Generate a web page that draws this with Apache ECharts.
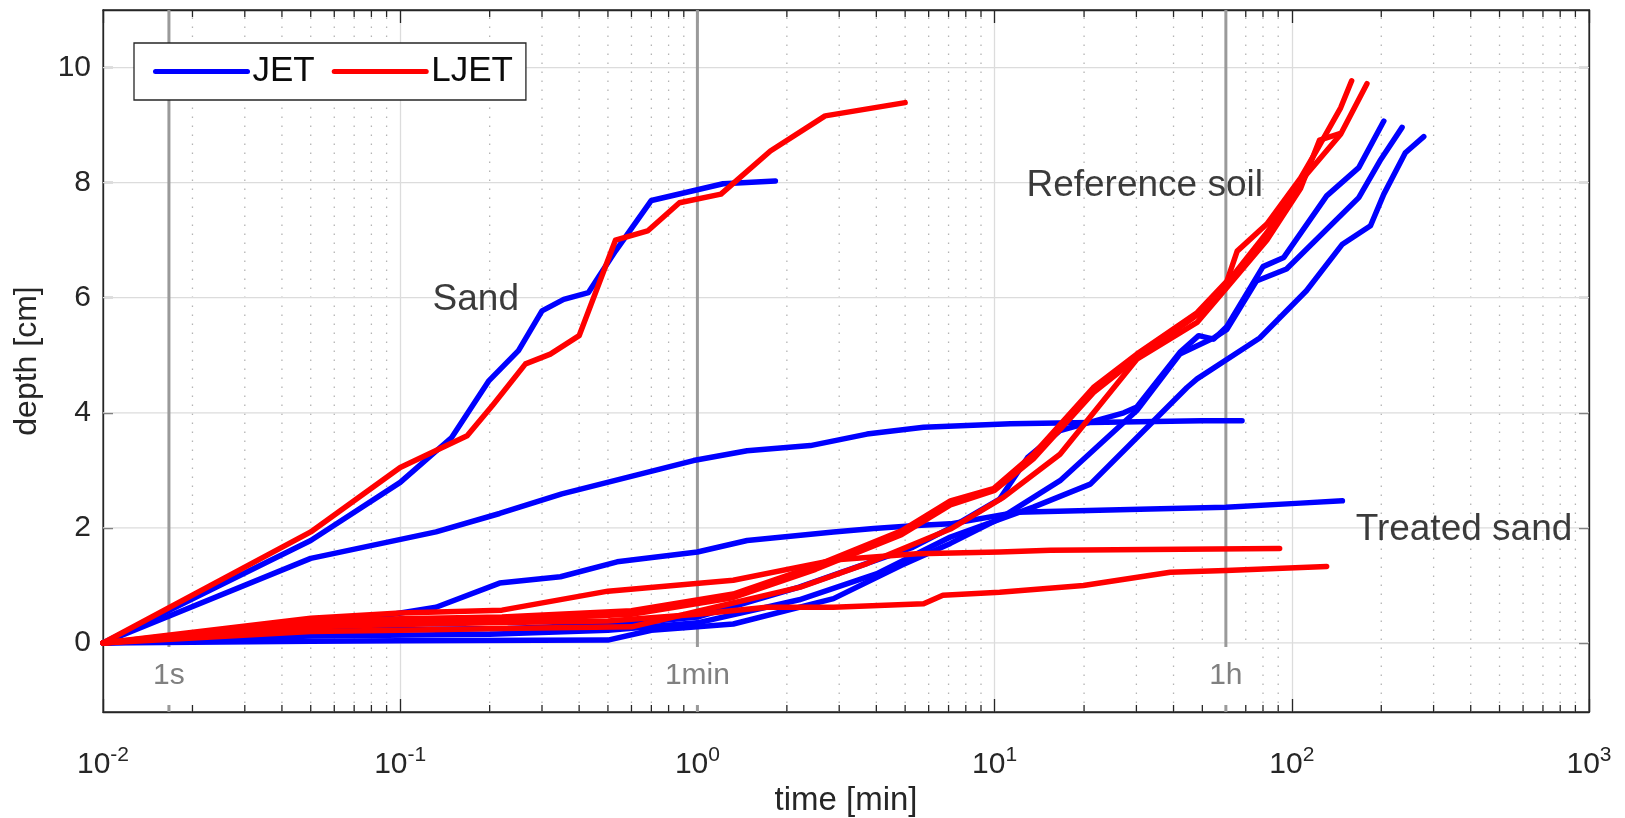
<!DOCTYPE html>
<html>
<head>
<meta charset="utf-8">
<script src="https://cdn.jsdelivr.net/npm/echarts@6/dist/echarts.min.js"></script>
<style>
  html, body { margin: 0; padding: 0; background: #fff; }
  #chart { width: 1625px; height: 818px; }
</style>
</head>
<body>
<div id="chart"></div>
<script>
// each curve: [time (min), depth (cm)]
const sandJet = [[0.01, 0], [0.05, 1.78], [0.1, 2.79], [0.149, 3.57], [0.199, 4.56], [0.25, 5.08], [0.3, 5.77], [0.355, 5.97], [0.43, 6.09], [0.53, 6.81], [0.7, 7.69], [1.22, 7.98], [1.83, 8.03]];
const treatedJetA = [[0.01, 0], [0.05, 1.47], [0.132, 1.93], [0.216, 2.25], [0.35, 2.59], [0.97, 3.17], [1.47, 3.34], [2.4, 3.43], [3.72, 3.63], [5.77, 3.75], [11.3, 3.81], [50, 3.86], [68, 3.86]];
const treatedJetB = [[0.01, 0], [0.05, 0.28], [0.09, 0.48], [0.132, 0.62], [0.216, 1.04], [0.346, 1.15], [0.537, 1.41], [1.0, 1.58], [1.47, 1.78], [2.87, 1.93], [3.92, 1.99], [5.47, 2.04], [7.1, 2.07], [11.9, 2.27], [33.4, 2.33], [60, 2.36], [107, 2.43], [148, 2.47]];
const refJet1 = [[0.01, 0], [0.05, 0.03], [0.1, 0.04], [0.5, 0.05], [0.7, 0.22], [1.0, 0.28], [1.32, 0.33], [2.87, 0.77], [4.86, 1.35], [7.1, 1.73], [10.4, 2.16], [16.6, 2.82], [30.1, 4.04], [42, 5.02], [55, 5.31], [60.5, 5.45], [76, 6.29], [96, 6.5], [168, 7.74], [198, 8.38], [235, 8.96]];
const refJet2 = [[0.01, 0], [0.05, 0.22], [0.23, 0.25], [0.57, 0.33], [1.0, 0.45], [2.2, 0.97], [5.3, 1.66], [7.1, 2.0], [10.4, 2.5], [12.9, 3.22], [16.6, 3.69], [27.2, 4.0], [30.1, 4.1], [42, 5.05], [48.6, 5.34], [54.6, 5.28], [60.5, 5.5], [80, 6.54], [94, 6.7], [131, 7.77], [168, 8.26], [204, 9.07]];
const refJet3 = [[0.01, 0], [0.05, 0.12], [0.2, 0.15], [0.5, 0.22], [1.0, 0.35], [2.2, 0.75], [4.0, 1.2], [7.1, 1.84], [13.5, 2.36], [21, 2.76], [33.4, 3.8], [44.4, 4.44], [48, 4.59], [78, 5.3], [112, 6.12], [148, 6.93], [184, 7.25], [204, 7.8], [241, 8.52], [278, 8.8]];

const sandLjet = [[0.01, 0], [0.05, 1.93], [0.1, 3.05], [0.168, 3.6], [0.206, 4.15], [0.264, 4.85], [0.32, 5.02], [0.4, 5.34], [0.53, 7.0], [0.68, 7.16], [0.87, 7.65], [1.2, 7.8], [1.76, 8.55], [2.69, 9.16], [5.0, 9.39]];
const treatedLjetA = [[0.01, 0], [0.05, 0.43], [0.1, 0.52], [0.22, 0.57], [0.5, 0.9], [1.32, 1.09], [2.87, 1.44], [5.47, 1.55], [10.4, 1.58], [15.4, 1.61], [91, 1.64]];
const treatedLjetB = [[0.01, 0], [0.05, 0.28], [0.1, 0.32], [0.2, 0.35], [0.5, 0.38], [1.0, 0.5], [1.71, 0.62], [2.87, 0.62], [5.77, 0.68], [6.7, 0.83], [10.4, 0.88], [19.9, 1.0], [39, 1.23], [60, 1.26], [131, 1.33]];
const refLjet1 = [[0.01, 0], [0.05, 0.38], [0.1, 0.42], [0.22, 0.45], [0.6, 0.56], [1.32, 0.85], [2.52, 1.35], [4.86, 1.95], [7.1, 2.47], [9.9, 2.68], [13.5, 3.28], [21.5, 4.44], [30.1, 5.02], [48, 5.74], [60.5, 6.29], [65.5, 6.81], [82.4, 7.28], [107, 8.08], [121, 8.55], [146, 9.3], [159, 9.77]];
const refLjet2 = [[0.01, 0], [0.05, 0.32], [0.1, 0.36], [0.22, 0.4], [0.6, 0.5], [1.3, 0.78], [2.5, 1.28], [4.86, 1.88], [7.1, 2.4], [10, 2.65], [13.5, 3.2], [21.5, 4.35], [30.1, 4.95], [48, 5.7], [60.5, 6.25], [82.4, 7.13], [112, 8.14], [146, 8.84], [179, 9.72]];
const refLjet3 = [[0.01, 0], [0.05, 0.2], [0.1, 0.22], [0.22, 0.25], [0.6, 0.28], [1.02, 0.56], [2.22, 0.97], [3.72, 1.38], [7.1, 1.98], [10.7, 2.53], [16.6, 3.28], [30.1, 4.93], [48, 5.57], [60.5, 6.18], [82.4, 7.0], [107, 7.9], [124, 8.74], [145, 8.85]];

const jetCurves = [sandJet, treatedJetA, treatedJetB, refJet1, refJet2, refJet3];
const ljetCurves = [sandLjet, treatedLjetA, treatedLjetB, refLjet1, refLjet2, refLjet3];

const yTicks = [0, 2, 4, 6, 8, 10];
const xRange = [0.01, 1000];
const yRange = [-1.2, 11];

// 1 s, 1 min, 1 h marks
const refTimes = [1 / 60, 1, 60];
const refLabels = ['1s', '1min', '1h'];

const noteTexts = ['Sand', 'Reference soil', 'Treated sand'];
const noteTimes = [0.1285, 12.8, 164];
const noteDepths = [5.97, 7.95, 1.96];

const minorTicks = [];
for (let e = -2; e < 3; e++) {
  for (let k = 2; k <= 9; k++) minorTicks.push(k * Math.pow(10, e));
}

const FONT = '"Liberation Sans", Arial, Helvetica, sans-serif';
const AXIS_COLOR = '#262626';

const chart = echarts.init(document.getElementById('chart'));

function curveSeries(name, data, color) {
  return {
    type: 'line',
    name: name,
    data: data,
    showSymbol: false,
    symbol: 'circle',
    symbolSize: 4,
    lineStyle: { width: 5.5, color: color, join: 'round', cap: 'round' },
    itemStyle: { color: color },
    z: 5,
    silent: true
  };
}

const series = [
  // dotted minor grid + minor ticks at top and bottom
  {
    type: 'custom',
    silent: true,
    z: 1,
    data: minorTicks.map(v => [v, yRange[0]]),
    encode: { x: 0, y: 1 },
    renderItem: function (params, api) {
      const x = api.value(0);
      const b = api.coord([x, yRange[0]]);
      const t = api.coord([x, yRange[1]]);
      return {
        type: 'group',
        children: [
          { type: 'line', shape: { x1: b[0], y1: b[1], x2: t[0], y2: t[1] },
            style: { stroke: '#b4b4b4', lineWidth: 1.3, lineDash: [1.5, 7.5] } },
          { type: 'line', shape: { x1: b[0], y1: b[1], x2: b[0], y2: b[1] - 7 },
            style: { stroke: AXIS_COLOR, lineWidth: 1.3 } },
          { type: 'line', shape: { x1: t[0], y1: t[1], x2: t[0], y2: t[1] + 7 },
            style: { stroke: AXIS_COLOR, lineWidth: 1.3 } }
        ]
      };
    }
  },
  // horizontal grid lines
  {
    type: 'custom',
    silent: true,
    z: 1,
    data: yTicks.map(v => [xRange[0], v]),
    encode: { x: 0, y: 1 },
    renderItem: function (params, api) {
      const y = api.value(1);
      const a = api.coord([xRange[0], y]);
      const b = api.coord([xRange[1], y]);
      return { type: 'line', shape: { x1: a[0], y1: a[1], x2: b[0], y2: b[1] },
        style: { stroke: '#dcdcdc', lineWidth: 1.3 } };
    }
  },
  // 1s / 1min / 1h lines with labels
  {
    type: 'custom',
    silent: true,
    z: 2,
    data: refTimes.map((v, i) => [v, 0, i]),
    encode: { x: 0, y: 1 },
    renderItem: function (params, api) {
      const x = api.value(0);
      const b = api.coord([x, yRange[0]]);
      const t = api.coord([x, yRange[1]]);
      const z0 = api.coord([x, 0]);
      return {
        type: 'group',
        children: [
          { type: 'line', shape: { x1: b[0], y1: b[1], x2: t[0], y2: t[1] },
            style: { stroke: '#9a9a9a', lineWidth: 3 } },
          { type: 'text',
            style: { text: refLabels[api.value(2)], x: z0[0], y: z0[1] + 33,
              fill: '#808080', font: '30px ' + FONT, align: 'center', verticalAlign: 'middle',
              backgroundColor: '#fff', padding: [14, 12, 14, 12] } }
        ]
      };
    }
  }
];

jetCurves.forEach(c => series.push(curveSeries('JET', c, '#0000ff')));
ljetCurves.forEach(c => series.push(curveSeries('LJET', c, '#ff0000')));

series.push({
  type: 'scatter',
  name: 'notes',
  silent: true,
  z: 6,
  symbolSize: 0,
  data: noteTexts.map((s, i) => ({ value: [noteTimes[i], noteDepths[i]], label: { formatter: s } })),
  label: { show: true, position: 'right', distance: 0, fontSize: 37, color: '#0a0a0a', fontFamily: FONT }
});

const option = {
  animation: false,
  backgroundColor: '#fff',
  textStyle: { fontFamily: FONT },
  grid: {
    left: 103, right: 36, top: 10, bottom: 106,
    show: true, borderColor: AXIS_COLOR, borderWidth: 1.3,
    outerBoundsMode: 'none'
  },
  legend: {
    data: ['JET', 'LJET'],
    left: 134, top: 43,
    itemWidth: 92, itemHeight: 6, itemGap: 17,
    padding: [11, 13, 11, 19],
    backgroundColor: '#fff', borderColor: AXIS_COLOR, borderWidth: 1.3,
    lineStyle: { width: 5 },
    textStyle: { fontSize: 35, color: '#0a0a0a', fontFamily: FONT },
    selectedMode: false
  },
  xAxis: [
    {
      type: 'log', logBase: 10, min: xRange[0], max: xRange[1],
      axisLine: { show: true, onZero: false, lineStyle: { color: AXIS_COLOR, width: 1.3 } },
      axisTick: { show: true, inside: true, length: 13, lineStyle: { color: AXIS_COLOR, width: 1.3 } },
      axisLabel: {
        margin: 33,
        color: AXIS_COLOR,
        formatter: function (v) {
          const e = Math.round(Math.log10(v));
          return '{b|10}{s|' + e + '}';
        },
        rich: {
          b: { fontSize: 30, lineHeight: 40, color: AXIS_COLOR, fontFamily: FONT },
          s: { fontSize: 21, verticalAlign: 'top', color: AXIS_COLOR, fontFamily: FONT }
        }
      },
      splitLine: { show: true, lineStyle: { color: '#dcdcdc', width: 1.3 } },
      name: 'time [min]', nameLocation: 'middle', nameGap: 72,
      nameTextStyle: { fontSize: 33, color: AXIS_COLOR, fontFamily: FONT }
    },
    {
      type: 'log', logBase: 10, min: xRange[0], max: xRange[1], position: 'top',
      axisLine: { show: true, onZero: false, lineStyle: { color: AXIS_COLOR, width: 1.3 } },
      axisTick: { show: true, inside: true, length: 13, lineStyle: { color: AXIS_COLOR, width: 1.3 } },
      axisLabel: { show: false },
      splitLine: { show: false }
    }
  ],
  yAxis: [
    {
      type: 'value', min: yRange[0], max: yRange[1],
      axisLine: { show: true, onZero: false, lineStyle: { color: AXIS_COLOR, width: 1.3 } },
      axisTick: { show: true, inside: true, length: 10, customValues: yTicks, lineStyle: { color: AXIS_COLOR, width: 1.3 } },
      axisLabel: { customValues: yTicks, fontSize: 30, color: AXIS_COLOR, margin: 12, fontFamily: FONT },
      splitLine: { show: false },
      name: 'depth [cm]', nameLocation: 'middle', nameGap: 60,
      nameTextStyle: { fontSize: 32, color: AXIS_COLOR, fontFamily: FONT }
    },
    {
      type: 'value', min: yRange[0], max: yRange[1], position: 'right',
      axisLine: { show: true, onZero: false, lineStyle: { color: AXIS_COLOR, width: 1.3 } },
      axisTick: { show: true, inside: true, length: 10, customValues: yTicks, lineStyle: { color: AXIS_COLOR, width: 1.3 } },
      axisLabel: { show: false },
      splitLine: { show: false }
    }
  ],
  series: series
};

chart.setOption(option);
</script>
</body>
</html>
